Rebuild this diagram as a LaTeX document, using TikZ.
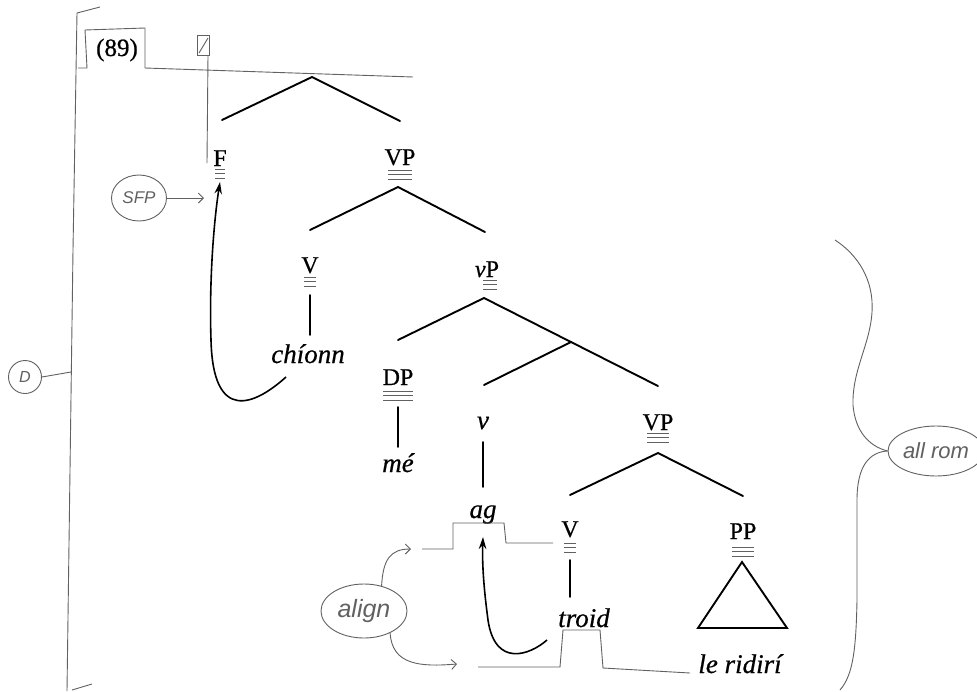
\documentclass[tikz,border=0pt]{standalone}
\usepackage{fontspec}
\setmainfont{Liberation Serif}[FakeBold=0.6]
\newfontfamily\handfont{Liberation Sans}
\usetikzlibrary{arrows.meta,shapes.geometric}
\definecolor{pencil}{gray}{0.38}
\begin{document}
\begin{tikzpicture}[x=1pt,y=-1pt,
 lab/.style={inner sep=0pt,anchor=base,font=\fontsize{24}{24}\selectfont},
 wrd/.style={inner sep=0pt,anchor=base,font=\fontsize{27}{27}\selectfont\itshape},
 br/.style={line width=1.9pt,line cap=round},
 mv/.style={line width=1.6pt,-{Stealth[length=12pt,width=7.5pt]}},
 pen/.style={pencil,line width=0.9pt},
 penarr/.style={pen,-{Straight Barb[length=5pt,width=10pt]}},
 note/.style={draw,pen,inner sep=0pt,text=pencil},
 pics/trip/.style={code={\draw[pencil,line width=1pt] (-#1,0)--(#1,0) (-#1,4.5)--(#1,4.5) (-#1,9)--(#1,9);}}
]
\useasboundingbox[fill=white] (0,0) rectangle (977,691);

% ---------- tree labels ----------
\node[lab] (F) at (220,166) {F};
\node[lab] (VP1) at (400,165) {VP};
\node[lab] (V1) at (310,273) {V};
\node[lab] (vP) at (487,277) {\textit{v}P};
\node[wrd] (chionn) at (308,363) {chíonn};
\node[lab] (DP) at (398,385) {DP};
\node[wrd] (me) at (398,472) {mé};
\node[wrd] (v) at (483,429) {v};
\node[wrd] (ag) at (483,518) {ag};
\node[lab] (VP2) at (658,430) {VP};
\node[lab] (V2) at (570,537) {V};
\node[wrd] (troid) at (584,627) {troid};
\node[lab] (PP) at (743,539) {PP};
\node[wrd] (lr) at (740,673) {le ridirí};
\node[lab,font=\fontsize{25}{25}\selectfont] (ex) at (117,56) {(89)};

% ---------- highlight marks ----------
\pic at ([yshift=-3pt]F.base) {trip=5};
\pic at ([yshift=-5pt]VP1.base) {trip=12};
\pic at ([yshift=-4pt]V1.base) {trip=6};
\pic at ([xshift=3pt,yshift=-3pt]vP.base) {trip=7};
\pic at ([yshift=-6pt]DP.base) {trip=15};
\pic at ([yshift=-3pt]VP2.base) {trip=11};
\pic at ([yshift=-6pt]V2.base) {trip=6};
\pic at ([yshift=-8pt]PP.base) {trip=11};

% ---------- branches ----------
\coordinate (r) at (312,77);
\coordinate (rL) at (222,120);
\coordinate (rR) at (400,121);
\draw[br] (rL) -- (r) -- (rR);
\coordinate (a1) at (398,187);
\draw[br] (310,230) -- (a1) -- (485,232);
\coordinate (a2) at (484,298);
\coordinate (a2R) at (658,386);
\draw[br] (398,340) -- (a2) -- (a2R);
\coordinate (vbar) at (571,342);
\draw[br] (vbar) -- (484,385);
\coordinate (a3) at (658,453);
\draw[br] (570,495) -- (a3) -- (743,496);
\draw[br] (310,295) -- (310,335);
\draw[br] (398,407) -- (398,447);
\draw[br] (483,442) -- (483,487);
\draw[br] (570,560) -- (570,597);
\draw[br,line join=miter] (742,562) -- (698,628) -- (787,628) -- cycle;

% ---------- movement arrows ----------
\draw[mv] ([shift={(-22,14)}]chionn.base) .. controls (255,405) and (213,424) .. (211,340)
  .. controls (209,280) and (214,220) .. ([yshift=-16pt]F.base);
\draw[mv] ([shift={(-37,13)}]troid.base) .. controls (530,655) and (495,668) .. (488,620)
  .. controls (484,590) and (482,565) .. ([yshift=-19pt]ag.base);

% ---------- pencil frame ----------
\draw[pen] (100,7) -- (77,13) -- (73,250) -- (67,691);
\draw[pen] (72,690) -- (92,684);
\draw[pen] (78,68) -- (87,68) -- (85,30) -- (145,28) -- (145,68) -- (413,77);
\draw[pen] (197,35) rectangle (209,55);
\draw[pen] (199,53) -- (208,38);
\draw[pen] (208,55) -- (207,163);

% ---------- pencil notes ----------
\node[note,ellipse,minimum width=55pt,minimum height=46pt,font=\handfont\itshape\fontsize{17}{17}\selectfont] (sfp) at (139,198) {SFP};
\coordinate (sfpTip) at (204,198);
\draw[penarr] (sfp.east) -- (sfpTip);

\node[note,circle,minimum size=33pt,font=\handfont\itshape\fontsize{16}{16}\selectfont] (dn) at (25,377) {D};
\coordinate (dEnd) at (71,372);
\draw[pen] (dn.east) -- (dEnd);

\node[note,ellipse,minimum width=86pt,minimum height=54pt,font=\handfont\itshape\fontsize{25}{25}\selectfont] (al) at (364,611) {align};
\coordinate (alT) at (411,549);
\coordinate (alB) at (457,664);
\draw[penarr] (al.55) .. controls (383,560) and (390,549) .. (alT);
\draw[penarr] (al.-40) .. controls (392,665) and (420,667) .. (alB);

\draw[pen] (422,549) -- (453,549) -- (453,523) -- (504,523) -- (506,543) -- (553,543);
\draw[pen] (478,667) -- (560,667) -- (563,630) -- (600,630) -- (603,668) -- (690,673);

\node[note,ellipse,minimum width=96pt,minimum height=50pt,font=\handfont\itshape\fontsize{22}{22}\selectfont] (allrom) at (936,451) {all rom};
\draw[pen] (835,240) .. controls (858,255) and (874,280) .. (872,312)
  .. controls (870,345) and (852,370) .. (853,405)
  .. controls (855,430) and (868,446) .. (allrom.west);
\draw[pen] (allrom.west) .. controls (870,452) and (857,465) .. (857,500)
  -- (857,600) .. controls (856,650) and (853,675) .. (840,690);
\end{tikzpicture}
\end{document}
